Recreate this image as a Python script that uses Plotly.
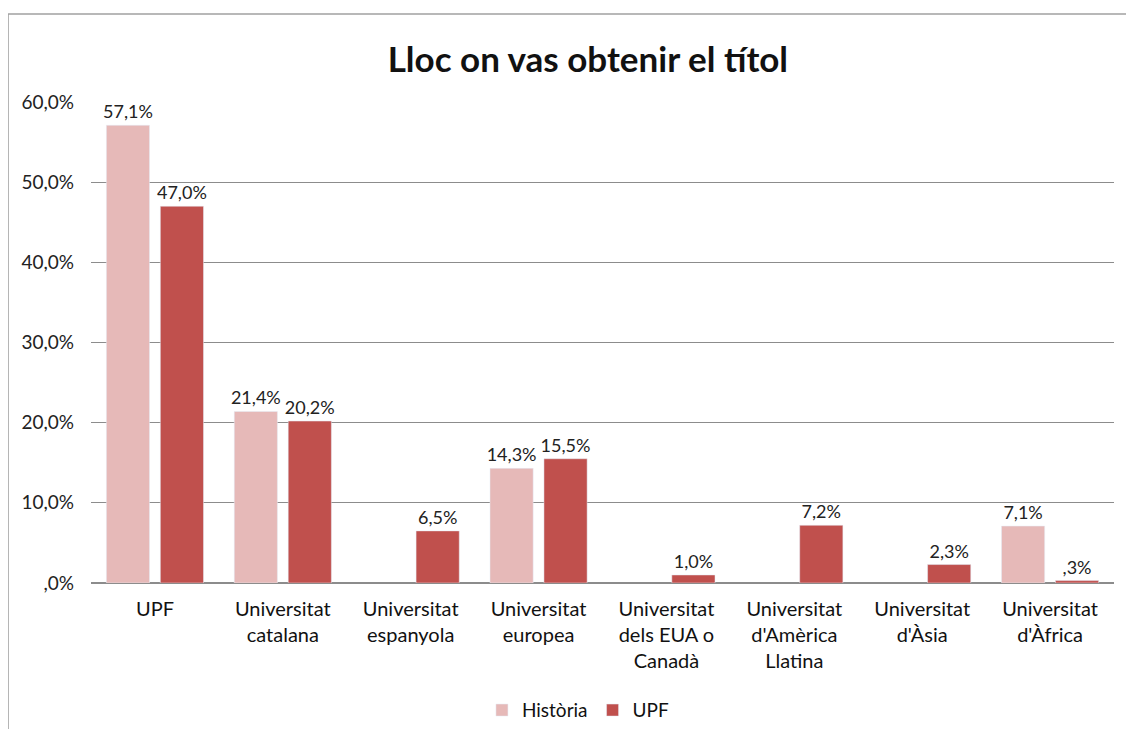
import plotly.graph_objects as go

categories = ["UPF", "Universitat<br>catalana", "Universitat<br>espanyola", "Universitat<br>europea",
              "Universitat<br>dels EUA o<br>Canadà", "Universitat<br>d'Amèrica<br>Llatina",
              "Universitat<br>d'Àsia", "Universitat<br>d'Àfrica"]
historia = [57.1, 21.4, None, 14.3, None, None, None, 7.1]
upf = [47.0, 20.2, 6.5, 15.5, 1.0, 7.2, 2.3, 0.3]
tick_vals = [0, 10, 20, 30, 40, 50, 60]
tick_text = [",0%", "10,0%", "20,0%", "30,0%", "40,0%", "50,0%", "60,0%"]


def fmt(v):
    if v is None:
        return ""
    s = f"{v:.1f}".replace(".", ",")
    if s.startswith("0"):
        s = s[1:]
    return s + "%"


FONT = "Lato, 'Open Sans', sans-serif"

fig = go.Figure()
fig.add_bar(name="Història", x=categories, y=historia, marker_color="#E6B9B8",
            text=[fmt(v) for v in historia], textposition="outside", cliponaxis=False,
            constraintext="none",
            textfont=dict(size=18, color="#222222", family=FONT))
fig.add_bar(name="UPF", x=categories, y=upf, marker_color="#C0504D",
            text=[fmt(v) for v in upf], textposition="outside", cliponaxis=False,
            constraintext="none",
            textfont=dict(size=18, color="#222222", family=FONT))

fig.update_layout(
    width=1126, height=721,
    margin=dict(l=83, r=20, t=94, b=146, autoexpand=False),
    paper_bgcolor="white", plot_bgcolor="white",
    barmode="group", bargap=0.156, bargroupgap=0.2,
    font=dict(family=FONT, color="#222222", size=18),
    title=dict(text="<b>Lloc on vas obtenir el títol</b>", x=0.515, xanchor="center",
               y=0.928, yanchor="middle", font=dict(size=35, color="#111111", family=FONT)),
    showlegend=True,
    legend=dict(orientation="h", x=0.476, xanchor="center", y=-0.225, yanchor="top",
                font=dict(size=19, color="#111111", family=FONT), itemwidth=30,
                traceorder="normal"),
)
fig.update_xaxes(showline=False, ticks="", tickfont=dict(size=20, color="#111111", family=FONT),
                 showgrid=False, ticklabelstandoff=12, automargin=False)
fig.update_yaxes(range=[0, 60], tickvals=tick_vals, ticktext=tick_text, showgrid=True,
                 gridcolor="#8C8C8C", gridwidth=1, zeroline=True, zerolinecolor="#8C8C8C",
                 showline=False, ticks="", ticklabelstandoff=16, automargin=False,
                 tickfont=dict(size=19, color="#222222", family=FONT))

# outer chart border (left and top edges)
fig.add_shape(type="line", xref="paper", yref="paper", x0=-0.0811, x1=1.1, y0=1.183, y1=1.183,
              line=dict(color="#A0A0A0", width=1.5))
fig.add_shape(type="line", xref="paper", yref="paper", x0=-0.0811, x1=-0.0811, y0=1.183, y1=-0.4,
              line=dict(color="#A0A0A0", width=1.5))

fig.write_html("out.html")
